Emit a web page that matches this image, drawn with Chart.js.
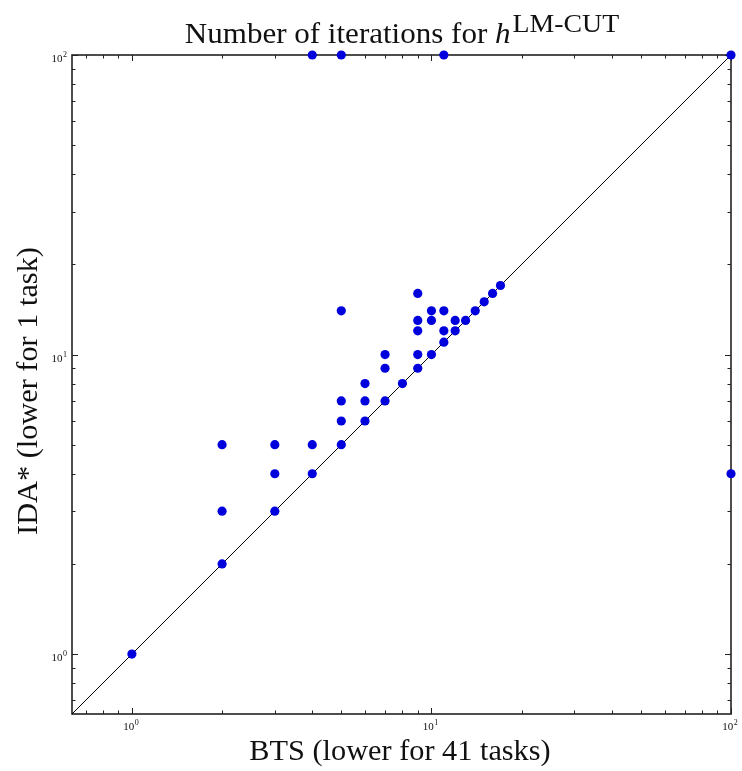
<!DOCTYPE html>
<html><head><meta charset="utf-8">
<script src="https://cdn.jsdelivr.net/npm/chart.js@4.4.0/dist/chart.umd.min.js"></script>
<style>html,body{margin:0;padding:0;background:#fff}</style>
</head><body>
<canvas id="c" width="742" height="771"></canvas>
<script>
// ---- data ----
const btsValues = [1,2,2,2,3,3,3,4,4,5,5,5,5,6,6,6,7,7,7,8,9,9,9,9,9,10,10,10,11,11,11,12,12,13,14,15,16,17,4,5,11,100,100];
const idaValues = [1,2,3,5,3,4,5,4,5,5,6,7,14,6,7,8,7,9,10,8,9,10,12,13,16,10,13,14,11,12,14,12,13,13,14,15,16,17,100,100,100,100,4];
const axisMin = 0.631;
const axisMax = 100;
const majorTicks = [1, 10, 100];
const tickBase = '10';
const tickExponents = ['0', '1', '2'];
const minorTicks = [0.7,0.8,0.9,2,3,4,5,6,7,8,9,20,30,40,50,60,70,80,90];
const titleMain = 'Number of iterations for ';
const titleVar = 'h';
const titleSup = 'LM-CUT';
const xTitle = 'BTS (lower for 41 tasks)';
const yTitle = 'IDA* (lower for 1 task)';

const points = btsValues.map((x, i) => ({x: x, y: idaValues[i]}));
const diagonal = [{x: axisMin, y: axisMin}, {x: axisMax, y: axisMax}];

const SERIF = '"Liberation Serif", "DejaVu Serif", serif';

function stretchedText(ctx, text, x, y, sx) {
  ctx.save();
  ctx.translate(x, y);
  ctx.scale(sx, 1);
  ctx.fillText(text, 0, 0);
  ctx.restore();
}

const framePlugin = {
  id: 'frame',
  beforeDatasetsDraw(chart) {
    const ctx = chart.ctx;
    const xs = chart.scales.x, ys = chart.scales.y;
    const a = chart.chartArea;
    ctx.save();
    ctx.strokeStyle = '#222';
    const drawTicks = (vals, len) => {
      vals.forEach(v => {
        const px = Math.round(xs.getPixelForValue(v)) + 0.5;
        const py = Math.round(ys.getPixelForValue(v)) + 0.5;
        ctx.beginPath();
        ctx.moveTo(px, a.bottom); ctx.lineTo(px, a.bottom - len);
        ctx.moveTo(px, a.top); ctx.lineTo(px, a.top + len);
        ctx.moveTo(a.left, py); ctx.lineTo(a.left + len, py);
        ctx.moveTo(a.right, py); ctx.lineTo(a.right - len, py);
        ctx.stroke();
      });
    };
    ctx.lineWidth = 1;
    drawTicks(majorTicks, 6);
    drawTicks(minorTicks, 3.5);
    ctx.lineWidth = 1.6;
    ctx.strokeRect(a.left, a.top, a.right - a.left, a.bottom - a.top);
    ctx.restore();
  },
  afterDraw(chart) {
    const ctx = chart.ctx;
    const xs = chart.scales.x, ys = chart.scales.y;
    const a = chart.chartArea;
    ctx.save();
    ctx.fillStyle = '#111';
    ctx.textBaseline = 'alphabetic';
    ctx.textAlign = 'left';
    // tick labels
    majorTicks.forEach((v, i) => {
      ctx.font = '11px ' + SERIF;
      const wb = ctx.measureText(tickBase).width;
      ctx.font = '8px ' + SERIF;
      const we = ctx.measureText(tickExponents[i]).width;
      const total = wb + we + 0.5;
      const px = xs.getPixelForValue(v);
      const x0 = px - total / 2 - 1;
      const by = a.bottom + 16;
      ctx.font = '11px ' + SERIF;
      ctx.fillText(tickBase, x0, by);
      ctx.font = '8px ' + SERIF;
      ctx.fillText(tickExponents[i], x0 + wb + 0.5, by - 5);
      const py = ys.getPixelForValue(v);
      const xr = a.left - 5;
      ctx.font = '8px ' + SERIF;
      ctx.fillText(tickExponents[i], xr - we, py + 2);
      ctx.font = '11px ' + SERIF;
      ctx.fillText(tickBase, xr - we - 0.5 - wb, py + 7);
    });
    // main title
    const mainSize = 29, supSize = 26, sx = 1.07;
    ctx.font = mainSize + 'px ' + SERIF;
    const w1 = ctx.measureText(titleMain).width * sx;
    ctx.font = 'italic ' + mainSize + 'px ' + SERIF;
    const w2 = ctx.measureText(titleVar).width * sx;
    ctx.font = supSize + 'px ' + SERIF;
    const w3 = ctx.measureText(titleSup).width * sx;
    const tw = w1 + w2 + 2 + w3;
    const tx = 402 - tw / 2;
    const ty = 43;
    ctx.font = mainSize + 'px ' + SERIF;
    stretchedText(ctx, titleMain, tx, ty, sx);
    ctx.font = 'italic ' + mainSize + 'px ' + SERIF;
    stretchedText(ctx, titleVar, tx + w1, ty, sx);
    ctx.font = supSize + 'px ' + SERIF;
    stretchedText(ctx, titleSup, tx + w1 + w2 + 2, 32, sx);
    // axis titles
    const axSize = 29, asx = 1.045;
    ctx.font = axSize + 'px ' + SERIF;
    const wx = ctx.measureText(xTitle).width * asx;
    stretchedText(ctx, xTitle, 400 - wx / 2, 760, asx);
    const wy = ctx.measureText(yTitle).width * asx;
    ctx.save();
    ctx.translate(37, 391);
    ctx.rotate(-Math.PI / 2);
    stretchedText(ctx, yTitle, -wy / 2, 0, asx);
    ctx.restore();
    ctx.restore();
  }
};

new Chart(document.getElementById('c'), {
  type: 'scatter',
  data: {
    datasets: [
      {
        label: 'tasks',
        data: points,
        backgroundColor: '#0000dd',
        borderColor: '#0000dd',
        borderWidth: 0,
        pointRadius: 4.6,
        pointHoverRadius: 4.6,
        clip: false,
        order: 0
      },
      {
        label: 'diagonal',
        data: diagonal,
        showLine: true,
        borderColor: '#000',
        borderWidth: 1,
        pointRadius: 0,
        fill: false,
        order: 1
      }
    ]
  },
  options: {
    responsive: false,
    animation: false,
    devicePixelRatio: 1,
    layout: {padding: {left: 72, right: 11, top: 55, bottom: 57}},
    plugins: {legend: {display: false}, tooltip: {enabled: false}, title: {display: false}},
    scales: {
      x: {type: 'logarithmic', min: axisMin, max: axisMax, bounds: 'data', display: false},
      y: {type: 'logarithmic', min: axisMin, max: axisMax, bounds: 'data', display: false}
    }
  },
  plugins: [framePlugin]
});
</script>
</body></html>
